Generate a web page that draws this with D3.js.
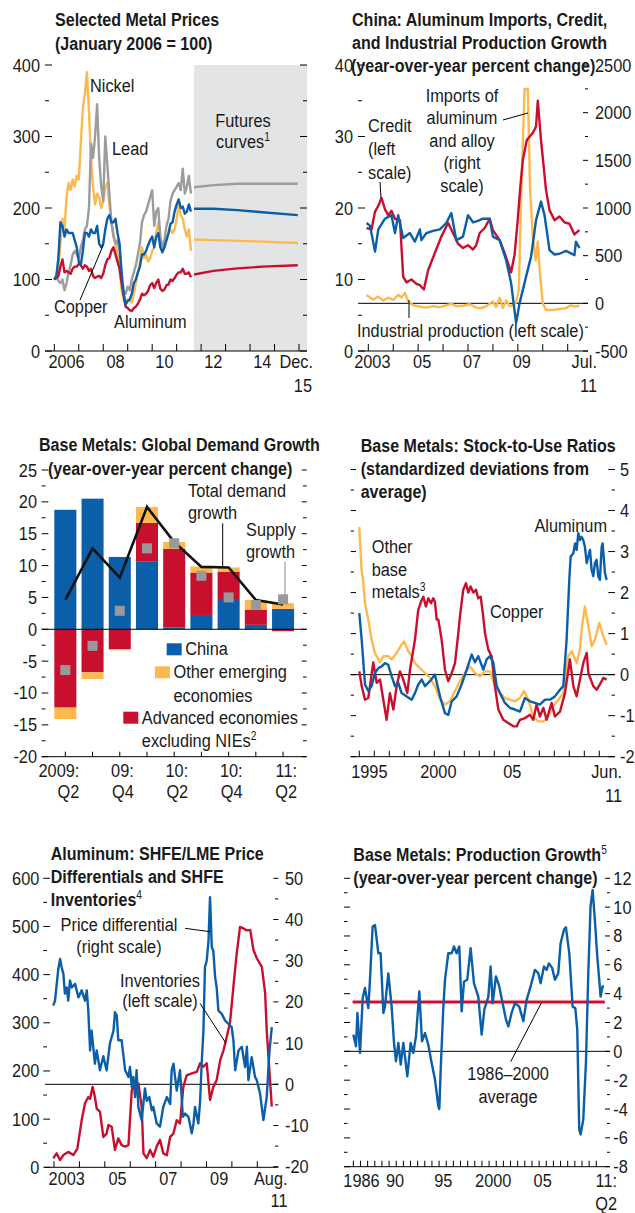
<!DOCTYPE html>
<html>
<head>
<meta charset="utf-8">
<script src="https://cdn.jsdelivr.net/npm/d3@7"></script>
<style>
  body { margin: 0; background: #fff; }
  svg text { font-family: "Liberation Sans", Arial, sans-serif; font-size: 19px; fill: #1a1a1a; }
  svg text.title { font-weight: bold; }
</style>
</head>
<body>
<div id="chart"></div>
<script>
// ---- panel 1: selected metal prices, monthly from Jan 2006 (Jan 2006 = 100)
const priceStart = 2006;
const nickelPrice = [100,105,115,150,185,170,215,235,225,240,230,245,
  240,290,340,360,390,335,270,230,205,220,215,200,
  210,230,235,205,180,165,150,135,115,85,72,65,
  72,70,68,80,95,110,125,145,130,135,125,130,
  140,145,165,180,160,140,145,155,165,170,165,170,
  185,205,190,185,170,160,170,140];
const leadPrice = [100,105,98,95,100,85,95,110,120,135,140,135,
  130,145,155,170,175,200,290,270,300,345,270,230,
  210,300,260,220,180,160,150,155,140,100,85,80,
  90,85,100,110,120,135,150,180,190,195,205,215,
  225,175,195,200,160,145,155,175,185,210,220,225,
  230,235,225,255,220,230,245,220];
const copperPrice = [100,105,130,180,175,160,170,165,165,165,155,145,
  125,120,140,165,165,160,170,165,165,175,150,145,
  150,170,185,190,180,180,185,165,150,110,80,65,
  70,72,80,95,100,110,118,135,135,140,148,155,
  160,145,160,165,145,138,145,155,165,178,180,195,
  205,212,200,202,192,195,205,195];
const aluminumPrice = [100,102,105,118,128,110,112,110,108,115,118,118,
  122,120,115,120,118,112,115,105,102,104,105,102,
  108,120,128,130,140,145,135,125,115,95,78,62,
  60,57,56,60,62,66,72,80,78,80,84,92,
  95,88,95,100,87,84,86,92,93,100,98,102,
  107,110,110,115,108,108,110,103];
const futuresStart = 2011.71;
const copperFutures = [[2011.71,199],[2012.5,199],[2013.5,197],[2014.5,194],[2015.95,190]];
const nickelFutures = [[2011.71,156],[2012.5,155],[2013.5,154],[2014.5,153],[2015.95,151]];
const leadFutures = [[2011.71,229],[2012.5,232],[2013.5,234],[2014.5,234],[2015.95,234]];
const aluminumFutures = [[2011.71,107],[2012.5,112],[2013.5,115.5],[2014.5,118],[2015.95,120]];
const priceTicks = [0,100,200,300,400];
const priceYears = [2006,2007,2008,2009,2010,2011,2012,2013,2014,2015,2016];
const priceYearLabels = [[2006,"2006"],[2008,"08"],[2010,"10"],[2012,"12"],[2014,"14"]];

// ---- panel 2: China imports, credit, industrial production
const creditGrowth = [[2002.93,17.2],[2003.13,17.0],[2003.27,19.5],[2003.4,20.3],[2003.53,21.4],[2003.67,19.8],[2003.8,19.0],[2003.93,19.6],[2004.07,18.5],[2004.27,18.3],[2004.4,10.4],[2004.53,9.6],[2004.73,10.0],[2004.93,9.4],[2005.07,9.2],[2005.23,8.6],[2005.4,11.3],[2005.67,13.7],[2005.93,16.0],[2006.2,17.9],[2006.4,16.5],[2006.6,15.0],[2006.8,14.4],[2007.0,14.8],[2007.2,14.2],[2007.33,14.8],[2007.47,16.5],[2007.67,17.2],[2007.87,18.5],[2008.0,16.9],[2008.27,15.5],[2008.47,13.7],[2008.73,11.0],[2008.87,13.5],[2009.0,18.5],[2009.1,23.0],[2009.2,26.7],[2009.36,29.5],[2009.6,30.5],[2009.73,31.4],[2009.8,35.0],[2009.93,29.5],[2010.13,22.5],[2010.27,19.7],[2010.47,18.3],[2010.67,18.8],[2010.87,18.0],[2011.07,17.8],[2011.27,16.3],[2011.47,16.9]];
const ipGrowth = [[2002.93,17.9],[2003.07,17.5],[2003.27,13.9],[2003.4,17.0],[2003.67,18.5],[2003.93,19.0],[2004.07,16.5],[2004.2,19.0],[2004.4,15.8],[2004.67,16.5],[2004.87,15.3],[2005.07,17.0],[2005.13,15.5],[2005.33,16.5],[2005.6,16.8],[2005.87,17.0],[2006.13,17.9],[2006.33,19.3],[2006.53,15.5],[2006.8,16.0],[2007.0,19.0],[2007.2,18.0],[2007.4,18.2],[2007.6,18.5],[2007.87,18.5],[2008.0,16.0],[2008.27,15.5],[2008.53,12.7],[2008.73,9.5],[2008.93,3.9],[2009.07,6.7],[2009.33,10.4],[2009.53,13.2],[2009.73,18.3],[2009.93,20.9],[2010.07,19.0],[2010.27,14.1],[2010.47,13.5],[2010.67,13.6],[2010.93,14.0],[2011.27,13.4],[2011.33,15.3],[2011.47,14.4]];
const aluminumImports = [[2002.93,87],[2003.07,60],[2003.2,40],[2003.4,70],[2003.6,30],[2003.8,60],[2004.0,35],[2004.2,90],[2004.33,60],[2004.47,110],[2004.6,20],[2004.8,-20],[2005.07,-35],[2005.33,-45],[2005.6,-30],[2005.87,-40],[2006.13,-20],[2006.33,-5],[2006.53,-30],[2006.8,-25],[2007.07,-10],[2007.33,-45],[2007.53,-50],[2007.73,-30],[2008.0,20],[2008.13,-40],[2008.27,60],[2008.4,-50],[2008.53,30],[2008.67,-30],[2008.8,-20],[2008.93,10],[2009.04,150],[2009.13,1100],[2009.27,2250],[2009.4,2250],[2009.49,1200],[2009.6,700],[2009.71,450],[2009.8,650],[2009.89,300],[2010.0,0],[2010.13,-70],[2010.4,-70],[2010.67,-60],[2010.93,-50],[2011.13,-20],[2011.27,-35],[2011.47,-25]];
const chinaYears = [2003,2004,2005,2006,2007,2008,2009,2010,2011];
const chinaYearLabels = [[2003,"2003"],[2005,"05"],[2007,"07"],[2009,"09"]];
const chinaLeftTicks = [0,10,20,30,40];
const chinaRightTicks = [-500,0,500,1000,1500,2000,2500];

// ---- panel 3: global demand growth, quarterly
const quarters = ["2009Q2","2009Q3","2009Q4","2010Q1","2010Q2","2010Q3","2010Q4","2011Q1","2011Q2"];
const chinaDemand = [18.75,20.5,11.35,10.6,0.3,2.25,4.6,0.7,3.2];
const advancedDemand = [-12.3,-6.75,-3.1,6.1,12.3,6.65,4.45,2.4,-0.3];
const otherDemand = [-1.8,-1.05,-0.2,2.5,1.1,0.95,0.65,1.5,0.9];
const totalDemand = [4.6,12.7,8.1,19.2,13.7,9.8,9.7,4.6,3.9];
const supplyGrowth = [-6.4,-2.6,2.9,12.7,13.5,8.4,5.0,3.8,4.7];
const quarterLabels = [[0,"2009:","Q2"],[2,"09:","Q4"],[4,"10:","Q2"],[6,"10:","Q4"],[8,"11:","Q2"]];
const demandTicks = [-20,-15,-10,-5,0,5,10,15,20,25];

// ---- panel 4: stock-to-use ratios
const aluminumStock = [[1995.0,1.5],[1995.16,0.85],[1995.38,-0.24],[1995.6,-0.4],[1995.82,-0.28],[1996.04,0.04],[1996.27,0.16],[1996.49,0.2],[1996.71,0.28],[1996.93,0.24],[1997.16,-0.04],[1997.38,-0.28],[1997.6,-0.2],[1997.82,-0.45],[1998.16,-0.53],[1998.49,-0.61],[1998.71,-0.45],[1998.93,-0.24],[1999.16,-0.12],[1999.38,-0.28],[1999.71,-0.16],[2000.04,0],[2000.38,-0.53],[2000.71,-0.94],[2000.93,-0.98],[2001.16,-0.65],[2001.49,-0.53],[2001.82,-0.24],[2002.16,0.12],[2002.49,0.49],[2002.71,0.3],[2002.93,0.45],[2003.27,0.12],[2003.49,0.37],[2003.71,0.45],[2003.93,0.3],[2004.16,-0.28],[2004.38,-0.45],[2004.71,-0.69],[2005.04,-0.81],[2005.38,-0.85],[2005.71,-0.9],[2006.04,-0.57],[2006.38,-0.65],[2006.71,-0.69],[2007.04,-0.73],[2007.38,-0.61],[2007.71,-0.61],[2008.04,-0.53],[2008.38,-0.37],[2008.6,-0.28],[2008.82,0.85],[2009.0,2.31],[2009.09,2.88],[2009.27,2.96],[2009.38,3.2],[2009.49,3.04],[2009.6,3.45],[2009.71,3.28],[2009.82,3.36],[2009.93,3.28],[2010.04,3.12],[2010.16,2.72],[2010.27,2.88],[2010.38,3.04],[2010.49,2.55],[2010.6,2.4],[2010.71,2.72],[2010.82,2.8],[2010.93,2.4],[2011.04,2.31],[2011.16,3.12],[2011.22,3.2],[2011.38,2.47],[2011.49,2.31]];
const copperStock = [[1995.0,0.08],[1995.16,-0.28],[1995.38,-0.61],[1995.6,-0.57],[1995.93,0.3],[1996.16,-0.2],[1996.38,-0.12],[1996.82,-1.1],[1997.04,-0.45],[1997.27,-0.85],[1997.49,-0.28],[1997.71,0.08],[1997.93,-0.12],[1998.2,-0.45],[1998.38,0.12],[1998.71,0.85],[1998.93,1.58],[1999.16,1.82],[1999.27,1.9],[1999.44,1.66],[1999.6,1.86],[1999.78,1.74],[1999.93,1.86],[2000.04,1.78],[2000.16,1.34],[2000.27,1.34],[2000.49,0.85],[2000.71,0.12],[2000.93,-0.16],[2001.16,0.04],[2001.38,0.28],[2001.6,1.01],[2001.71,1.42],[2001.93,2.07],[2002.11,2.23],[2002.27,2.0],[2002.42,2.15],[2002.6,2.0],[2002.78,2.07],[2002.93,1.86],[2003.09,1.9],[2003.22,1.54],[2003.38,1.01],[2003.6,0.61],[2003.82,0.45],[2004.04,-0.28],[2004.27,-0.85],[2004.6,-1.1],[2004.93,-1.18],[2005.27,-1.26],[2005.49,-1.26],[2005.71,-1.1],[2006.04,-1.06],[2006.38,-0.98],[2006.6,-1.1],[2006.82,-0.73],[2007.04,-1.02],[2007.27,-0.81],[2007.49,-1.1],[2007.82,-0.69],[2008.04,-1.02],[2008.38,-0.9],[2008.71,-0.45],[2009.04,0.37],[2009.27,-0.28],[2009.49,-0.53],[2009.71,-0.12],[2009.93,0.28],[2010.16,0.53],[2010.27,0.04],[2010.6,-0.28],[2010.82,-0.37],[2011.04,-0.24],[2011.27,-0.08],[2011.49,-0.12]];
const otherStock = [[1995.0,3.6],[1995.1,2.9],[1995.15,2.55],[1995.25,2.3],[1995.38,1.74],[1995.6,1.34],[1995.82,0.85],[1996.04,0.53],[1996.38,0.3],[1996.6,0.45],[1996.93,0.45],[1997.16,0.37],[1997.49,0.53],[1997.82,0.73],[1997.98,0.81],[1998.27,0.57],[1998.49,0.45],[1998.71,0.28],[1999.04,0.16],[1999.38,0.04],[1999.71,-0.08],[2000.04,-0.28],[2000.38,-0.61],[2000.71,-0.73],[2001.04,-0.65],[2001.38,-0.4],[2001.71,-0.16],[2002.04,0.04],[2002.38,0.2],[2002.71,0.04],[2003.04,-0.04],[2003.38,0.08],[2003.71,0.08],[2004.04,-0.28],[2004.38,-0.45],[2004.71,-0.57],[2005.04,-0.61],[2005.38,-0.65],[2005.71,-0.57],[2005.98,-0.4],[2006.27,-0.61],[2006.6,-1.02],[2006.93,-1.14],[2007.27,-1.14],[2007.6,-1.02],[2007.93,-0.77],[2008.27,-0.61],[2008.6,-0.45],[2008.93,0.45],[2009.16,0.57],[2009.49,0.28],[2009.71,0.61],[2009.82,1.1],[2010.04,1.66],[2010.27,1.18],[2010.49,0.69],[2010.71,0.85],[2011.0,1.26],[2011.27,0.93],[2011.49,0.73]];
const stockYears = d3.range(1995, 2012);
const stockYearLabels = [[1995.67,"1995"],[2000.27,"2000"],[2005.2,"05"]];
const stockTicks = [-2,-1,0,1,2,3,4,5];

// ---- panel 5: SHFE/LME price differential and SHFE inventories
const priceDifferential = [[2002.97,19.1],[2003.04,20.3],[2003.17,28.0],[2003.24,30.4],[2003.3,28.4],[2003.37,26.8],[2003.43,22.0],[2003.5,23.5],[2003.56,20.3],[2003.63,25.2],[2003.7,23.5],[2003.83,24.4],[2003.96,21.1],[2004.09,22.8],[2004.22,20.3],[2004.29,22.8],[2004.35,17.9],[2004.42,8.2],[2004.48,13.0],[2004.61,5.0],[2004.68,8.2],[2004.81,3.4],[2004.94,6.8],[2005.07,3.4],[2005.2,9.9],[2005.34,13.0],[2005.4,17.5],[2005.47,16.7],[2005.53,10.7],[2005.66,10.7],[2005.8,3.4],[2005.93,1.8],[2005.99,4.2],[2006.06,-0.6],[2006.12,1.8],[2006.19,-3.1],[2006.25,3.4],[2006.32,-5.5],[2006.45,-8.7],[2006.58,-1.0],[2006.65,-4.0],[2006.75,-3.1],[2006.85,-6.3],[2006.91,-5.5],[2007.04,-9.5],[2007.17,-10.3],[2007.3,-5.5],[2007.44,-3.1],[2007.57,-4.8],[2007.63,3.4],[2007.7,5.0],[2007.83,-1.5],[2007.96,3.4],[2008.07,-7.9],[2008.16,-7.1],[2008.29,-7.9],[2008.42,-11.9],[2008.49,-9.5],[2008.55,-5.5],[2008.68,-9.5],[2008.75,-4.0],[2008.81,5.0],[2008.88,13.0],[2008.94,28.4],[2009.01,30.0],[2009.08,34.9],[2009.14,45.4],[2009.21,33.2],[2009.27,32.4],[2009.34,26.0],[2009.4,23.6],[2009.47,17.9],[2009.6,17.1],[2009.73,15.5],[2009.86,14.7],[2009.99,13.9],[2010.06,10.7],[2010.13,3.4],[2010.26,8.2],[2010.39,9.1],[2010.52,4.2],[2010.59,9.1],[2010.65,1.0],[2010.78,6.6],[2010.91,1.8],[2010.98,1.0],[2011.11,-2.3],[2011.24,-8.7],[2011.37,-3.1],[2011.48,8.2],[2011.57,13.9]];
const shfeInventories = [[2002.97,18.7],[2003.1,29],[2003.24,15],[2003.37,25.5],[2003.56,32],[2003.76,25.5],[2003.92,39],[2004.09,98],[2004.22,133],[2004.35,146],[2004.42,142],[2004.52,167],[2004.61,146],[2004.68,122],[2004.81,115],[2004.94,63],[2005.07,70],[2005.14,88],[2005.27,84],[2005.4,36],[2005.53,60],[2005.66,46],[2005.8,43],[2005.93,46],[2006.06,160],[2006.19,178],[2006.32,174],[2006.45,126],[2006.52,29],[2006.65,19],[2006.78,36],[2006.91,22],[2007.04,43],[2007.17,57],[2007.3,29],[2007.44,25],[2007.57,63],[2007.7,70],[2007.83,98],[2007.96,91],[2008.09,167],[2008.22,191],[2008.42,195],[2008.62,198],[2008.75,216],[2008.88,209],[2009.01,216],[2009.14,140],[2009.27,167],[2009.4,181],[2009.54,222],[2009.67,243],[2009.8,271],[2009.93,302],[2010.06,375],[2010.19,444],[2010.32,499],[2010.45,496],[2010.59,492],[2010.72,493],[2010.85,451],[2010.98,434],[2011.18,416],[2011.31,361],[2011.37,285],[2011.44,229],[2011.57,126]];
const shfeYears = d3.range(2003, 2012);
const shfeYearLabels = [[2003,"2003"],[2005,"05"],[2007,"07"],[2009,"09"]];
const shfeLeftTicks = [0,100,200,300,400,500,600];
const shfeRightTicks = [-20,-10,0,10,20,30,40,50];

// ---- panel 6: base metals production growth
const productionGrowth = [[1985.77,1.16],[1986.04,0.35],[1986.18,2.66],[1986.45,-0.11],[1986.72,3.7],[1986.95,4.4],[1987.29,3.0],[1987.46,4.97],[1987.73,8.66],[1987.97,8.76],[1988.31,6.8],[1988.54,6.8],[1988.82,2.66],[1988.98,3.1],[1989.32,5.4],[1989.66,3.1],[1989.9,0.58],[1990.1,-0.69],[1990.34,0.58],[1990.58,-0.92],[1990.85,0.58],[1991.25,-1.73],[1991.59,0.58],[1991.86,-0.11],[1992.13,1.04],[1992.47,4.15],[1992.74,0.69],[1993.05,1.27],[1993.38,0.46],[1993.72,-0.81],[1994.06,-1.96],[1994.4,-3.8],[1994.5,-4.0],[1994.64,-1.27],[1994.91,3.1],[1995.08,4.97],[1995.41,6.8],[1995.75,6.8],[1995.99,7.27],[1996.26,6.8],[1996.53,7.27],[1996.77,2.77],[1997.01,4.84],[1997.34,4.97],[1997.68,7.15],[1998.02,4.72],[1998.46,3.8],[1998.8,1.16],[1999.07,2.89],[1999.48,3.8],[1999.71,5.88],[1999.92,3.34],[2000.25,5.2],[2000.59,4.5],[2000.93,3.34],[2001.27,2.2],[2001.51,1.73],[2001.84,2.66],[2002.18,3.34],[2002.62,3.1],[2003.03,2.09],[2003.37,3.57],[2003.77,4.5],[2004.21,5.65],[2004.55,5.42],[2004.79,4.72],[2005.13,5.88],[2005.4,5.65],[2005.63,6.1],[2005.97,5.77],[2006.24,4.97],[2006.58,5.42],[2006.82,7.5],[2007.16,8.43],[2007.36,8.6],[2007.7,6.8],[2008.04,3.1],[2008.31,3.0],[2008.51,1.5],[2008.71,-5.42],[2008.85,-5.77],[2009.12,-4.73],[2009.39,-0.81],[2009.63,5.42],[2009.86,10.05],[2010.07,11.2],[2010.3,9.1],[2010.54,6.6],[2010.74,4.97],[2010.88,3.8],[2011.08,4.5],[2011.22,4.5]];
const productionAverage = 3.42;
const productionTickYears = d3.range(35).map(i => 1985.77 + i * 0.7256);
const productionYearLabels = [[1986.6,"1986"],[1990,"90"],[1994.9,"95"],[1999.98,"2000"],[2005.0,"05"]];
const productionTicks = [-8,-6,-4,-2,0,2,4,6,8,10,12];

// ---- colours
const BLUE = "#0b5ea8", RED = "#c8102e", GOLD = "#fdb94d", GREY = "#9b9c9e", SHADE = "#e3e4e6";
// the chart uses a condensed face: squeeze Liberation Sans horizontally
const SX = 0.86, SX_BOLD = 0.845;

const svg = d3.select("#chart").append("svg").attr("width", 635).attr("height", 1213);

// ---- helpers
const at = (x, y, s) => `translate(${x},${y}) scale(${s || SX},1)`;
function ticksY(g, y, vals, x0, x1) {
  g.selectAll(null).data(vals).enter().append("line")
    .attr("x1", x0).attr("x2", x1)
    .attr("y1", d => y(d)).attr("y2", d => y(d))
    .attr("stroke", "#000").attr("stroke-width", 1);
}
function ticksX(g, x, vals, y0, len) {
  g.selectAll(null).data(vals).enter().append("line")
    .attr("x1", d => x(d)).attr("x2", d => x(d))
    .attr("y1", y0).attr("y2", y0 - len)
    .attr("stroke", "#000").attr("stroke-width", 1);
}
function labelsY(g, y, vals, x, anchor) {
  g.selectAll(null).data(vals).enter().append("text")
    .attr("transform", d => at(x, y(d) + 6.5))
    .attr("text-anchor", anchor)
    .text(d => d);
}
function hline(g, x0, x1, yy, color, w) {
  g.append("line").attr("x1", x0).attr("x2", x1).attr("y1", yy).attr("y2", yy)
    .attr("stroke", color || "#000").attr("stroke-width", w || 1);
}
function seg(g, x0, y0, x1, y1, color) {
  g.append("line").attr("x1", x0).attr("y1", y0).attr("x2", x1).attr("y2", y1)
    .attr("stroke", color || "#000").attr("stroke-width", 1);
}
function series(g, data, x, y, color, w) {
  g.append("path").datum(data)
    .attr("d", d3.line().x(d => x(d[0])).y(d => y(d[1])))
    .attr("fill", "none").attr("stroke", color)
    .attr("stroke-width", w || 2.4).attr("stroke-linejoin", "round");
}
// parts: string, or {sup: "1"} for a superscript note
function label(g, x, y, parts, anchor, cls) {
  const t = g.append("text").attr("transform", at(x, y, cls === "title" ? SX_BOLD : SX))
    .attr("text-anchor", anchor || "start");
  if (cls) t.attr("class", cls);
  [].concat(parts).forEach(p => {
    if (typeof p === "string") t.append("tspan").text(p);
    else t.append("tspan").attr("dy", -7).style("font-size", "12px").style("font-weight", "normal").text(p.sup);
  });
  return t;
}
function lines(g, x, y, step, rows, anchor, cls) {
  rows.forEach((r, i) => label(g, x, y + i * step, r, anchor, cls));
}
const monthly = (arr, start) => arr.map((v, i) => [start + i / 12, v]);

// ================= panel 1 =================
(function () {
  const g = svg.append("g");
  const x = d3.scaleLinear().domain([2006, 2016]).range([54.3, 299]);
  const y = d3.scaleLinear().domain([0, 400]).range([351, 65]);
  g.append("rect").attr("x", x(futuresStart)).attr("y", y(400))
    .attr("width", 307 - x(futuresStart)).attr("height", y(0) - y(400)).attr("fill", SHADE);

  ticksY(g, y, priceTicks, 45, 52);
  ticksY(g, y, [50,150,250,350], 45, 49);
  ticksY(g, y, priceTicks, 307, 300);
  ticksY(g, y, [50,150,250,350], 307, 303);
  labelsY(g, y, priceTicks, 40, "end");
  hline(g, 45, 307, y(0));
  ticksX(g, x, priceYears, y(0), 7);
  priceYearLabels.forEach(d => label(g, x(d[0] + 0.5), 368, d[1], "middle"));
  label(g, 313, 368, "Dec.", "end");
  label(g, 312, 392, "15", "end");

  series(g, monthly(nickelPrice, priceStart), x, y, GOLD);
  series(g, monthly(leadPrice, priceStart), x, y, GREY);
  series(g, monthly(aluminumPrice, priceStart), x, y, RED);
  series(g, monthly(copperPrice, priceStart), x, y, BLUE);
  series(g, nickelFutures, x, y, GOLD);
  series(g, leadFutures, x, y, GREY);
  series(g, aluminumFutures, x, y, RED);
  series(g, copperFutures, x, y, BLUE);

  lines(g, 55, 26, 23.5, ["Selected Metal Prices", "(January 2006 = 100)"], "start", "title");
  label(g, 90, 92, "Nickel");
  label(g, 112, 155, "Lead");
  label(g, 54, 313, "Copper");
  seg(g, 80, 300, 103.3, 245);
  label(g, 114, 328, "Aluminum");
  label(g, 243, 127, "Futures", "middle");
  label(g, 243, 148, ["curves", {sup: "1"}], "middle");
})();

// ================= panel 2 =================
(function () {
  const g = svg.append("g");
  const x = d3.scaleLinear().domain([2003, 2011]).range([368.3, 567.7]);
  const yL = d3.scaleLinear().domain([0, 40]).range([351, 65]);
  const yR = d3.scaleLinear().domain([-500, 2500]).range([351, 65]);

  ticksY(g, yL, chinaLeftTicks, 358, 365);
  ticksY(g, yL, [5,15,25,35], 358, 362);
  ticksY(g, yR, chinaRightTicks, 588, 583);
  ticksY(g, yR, [-250,250,750,1250,1750,2250], 588, 585);
  labelsY(g, yL, chinaLeftTicks, 353, "end");
  labelsY(g, yR, chinaRightTicks, 595, "start");
  hline(g, 358, 588, yL(0));
  hline(g, 358, 588, yR(0));
  ticksX(g, x, chinaYears, yL(0), 7);
  chinaYearLabels.forEach(d => label(g, x(d[0]) + 4, 368, d[1], "middle"));
  label(g, 597, 368, "Jul.", "end");
  label(g, 597, 392, "11", "end");

  series(g, aluminumImports, x, yR, GOLD);
  series(g, creditGrowth, x, yL, RED);
  series(g, ipGrowth, x, yL, BLUE);

  lines(g, 352, 26, 23, ["China: Aluminum Imports, Credit,", "and Industrial Production Growth"], "start", "title");
  label(g, 351, 72, "(year-over-year percent change)", "start", "title");
  lines(g, 368, 131.7, 23.5, ["Credit", "(left", "scale)"], "start");
  seg(g, 380, 182, 381, 198);
  lines(g, 462, 101.7, 22.5, ["Imports of", "aluminum", "and alloy", "(right", "scale)"], "middle");
  seg(g, 503, 120, 528, 113);
  label(g, 357, 337, "Industrial production (left scale)");
  seg(g, 409, 300, 409, 318);
})();

// ================= panel 3 =================
(function () {
  const g = svg.append("g");
  const x = d3.scaleBand().domain(quarters).range([51.6, 296.8]).paddingInner(0.19).paddingOuter(0.1);
  const y = d3.scaleLinear().domain([-20, 25]).range([756.7, 470]);

  ticksY(g, y, demandTicks, 41.7, 48.3);
  ticksY(g, y, demandTicks.map(d => d + 2.5).slice(0, 9), 41.7, 45.5);
  ticksY(g, y, demandTicks, 306.7, 301.7);
  ticksY(g, y, demandTicks.map(d => d + 2.5).slice(0, 9), 306.7, 303);
  labelsY(g, y, demandTicks, 37, "end");

  const rows = quarters.map((q, i) => ({q: q, china: chinaDemand[i], advanced: advancedDemand[i], other: otherDemand[i]}));
  const stack = d3.stack().keys(["china", "advanced", "other"]).offset(d3.stackOffsetDiverging)(rows);
  const fill = {china: BLUE, advanced: RED, other: GOLD};
  stack.forEach(layer => {
    g.selectAll(null).data(layer).enter().append("rect")
      .attr("x", d => x(d.data.q)).attr("width", x.bandwidth())
      .attr("y", d => y(Math.max(d[0], d[1])))
      .attr("height", d => Math.abs(y(d[0]) - y(d[1])))
      .attr("fill", fill[layer.key]);
  });
  hline(g, 41.7, 306.7, y(0));
  hline(g, 41.7, 306.7, y(-20));
  const cx = q => x(q) + x.bandwidth() / 2;
  ticksX(g, q => cx(q), quarters, y(-20), 5);

  g.append("path").datum(totalDemand)
    .attr("d", d3.line().x((d, i) => cx(quarters[i])).y(d => y(d)))
    .attr("fill", "none").attr("stroke", "#111").attr("stroke-width", 2.6);
  g.selectAll(null).data(supplyGrowth).enter().append("rect")
    .attr("x", (d, i) => cx(quarters[i]) - 5).attr("y", d => y(d) - 5)
    .attr("width", 10).attr("height", 10).attr("fill", "#999");

  quarterLabels.forEach(d => {
    label(g, cx(quarters[d[0]]) + 14, 776.7, d[1], "end");
    label(g, cx(quarters[d[0]]) + 14, 798.3, d[2], "end");
  });

  label(g, 39, 450.7, "Base Metals: Global Demand Growth", "start", "title");
  label(g, 48, 475, "(year-over-year percent change)", "start", "title");
  lines(g, 188, 496.7, 22, ["Total demand", "growth"], "start");
  seg(g, 222.7, 523.3, 222.7, 566.7);
  lines(g, 246, 536, 22.3, ["Supply", "growth"], "start");
  seg(g, 285, 561.7, 285, 595, "#888");

  const legend = [[166.7, 643.3, BLUE, ["China"]], [155, 666.3, GOLD, ["Other emerging", "economies"]], [123.3, 711.7, RED, ["Advanced economies", ["excluding NIEs", {sup: "2"}]]]];
  legend.forEach(d => {
    g.append("rect").attr("x", d[0]).attr("y", d[1]).attr("width", 15).attr("height", 12).attr("fill", d[2]);
    lines(g, d[0] + 18.5, d[1] + 12, 23.4, d[3], "start");
  });
})();

// ================= panel 4 =================
(function () {
  const g = svg.append("g");
  const x = d3.scaleLinear().domain([1995, 2011]).range([359.3, 599.3]);
  const y = d3.scaleLinear().domain([-2, 5]).range([756.7, 469.5]);
  const halves = stockTicks.slice(0, 7).map(d => d + 0.5);

  ticksY(g, y, stockTicks, 350.7, 356);
  ticksY(g, y, halves, 350.7, 354);
  ticksY(g, y, stockTicks, 615, 608.3);
  ticksY(g, y, halves, 615, 611.5);
  labelsY(g, y, stockTicks, 620, "start");
  hline(g, 350.7, 615, y(0));
  hline(g, 350.7, 615, y(-2));
  ticksX(g, x, stockYears, y(-2), 6);
  stockYearLabels.forEach(d => label(g, x(d[0]), 778.3, d[1], "middle"));
  label(g, 622, 778.3, "Jun.", "end");
  label(g, 622, 801.7, "11", "end");

  series(g, otherStock, x, y, GOLD);
  series(g, copperStock, x, y, RED);
  series(g, aluminumStock, x, y, BLUE);

  lines(g, 360.7, 451.7, 23.3, ["Base Metals: Stock-to-Use Ratios", "(standardized deviations from", "average)"], "start", "title");
  lines(g, 371.7, 553.3, 22.5, ["Other", "base", ["metals", {sup: "3"}]], "start");
  label(g, 490, 617.7, "Copper");
  label(g, 607, 531.7, "Aluminum", "end");
})();

// ================= panel 5 =================
(function () {
  const g = svg.append("g");
  const x = d3.scaleLinear().domain([2003, 2011]).range([54, 257.3]);
  const yL = d3.scaleLinear().domain([0, 600]).range([1167.3, 878.3]);
  const yR = d3.scaleLinear().domain([-20, 50]).range([1166.7, 878.3]);

  ticksY(g, yL, shfeLeftTicks, 43.3, 50);
  ticksY(g, yL, [50,150,250,350,450,550], 43.3, 47);
  ticksY(g, yR, shfeRightTicks, 278.3, 273.3);
  ticksY(g, yR, [-15,-5,5,15,25,35,45], 278.3, 275);
  labelsY(g, yL, shfeLeftTicks, 39.3, "end");
  labelsY(g, yR, shfeRightTicks, 285, "start");
  hline(g, 45, 278.3, yL(0));
  hline(g, 45, 278.3, yR(0));
  ticksX(g, x, shfeYears, yL(0), 6);
  shfeYearLabels.forEach(d => label(g, x(d[0] + 0.5), 1185, d[1], "middle"));
  label(g, 287.5, 1185, "Aug.", "end");
  label(g, 287.5, 1206.7, "11", "end");

  series(g, shfeInventories, x, yL, RED);
  series(g, priceDifferential, x, yR, BLUE);

  lines(g, 50.7, 860, 23, ["Aluminum: SHFE/LME Price", "Differentials and SHFE", ["Inventories", {sup: "4"}]], "start", "title");
  lines(g, 119, 930.7, 22.6, ["Price differential", "(right scale)"], "middle");
  seg(g, 185, 928.3, 210, 931.7);
  lines(g, 160, 986.7, 20, ["Inventories", "(left scale)"], "middle");
  seg(g, 200, 1003.3, 226, 1043.3);
})();

// ================= panel 6 =================
(function () {
  const g = svg.append("g");
  const x = d3.scaleLinear().domain([1990, 2005]).range([395, 542.7]);
  const y = d3.scaleLinear().domain([-8, 12]).range([1166.7, 878.3]);
  const odd = productionTicks.slice(0, 10).map(d => d + 1);

  ticksY(g, y, productionTicks, 344, 350);
  ticksY(g, y, odd, 344, 347.5);
  ticksY(g, y, productionTicks, 610, 605);
  ticksY(g, y, odd, 610, 607);
  labelsY(g, y, productionTicks, 613.3, "start");
  hline(g, 344, 610, y(0));
  hline(g, 344, 610, y(-8));
  ticksX(g, x, productionTickYears, y(-8), 6);
  productionYearLabels.forEach(d => label(g, x(d[0]), 1186.7, d[1], "middle"));
  label(g, 617, 1186.7, "11:", "end");
  label(g, 617, 1210, "Q2", "end");

  hline(g, x(1985.7), x(2011.3), y(productionAverage), "#f0b8c0", 4.5);
  hline(g, x(1985.7), x(2011.3), y(productionAverage), RED, 2.6);
  series(g, productionGrowth, x, y, BLUE);

  lines(g, 353.3, 860.7, 23.3, [["Base Metals: Production Growth", {sup: "5"}], "(year-over-year percent change)"], "start", "title");
  lines(g, 508, 1080, 22.7, ["1986\u20132000", "average"], "middle");
  seg(g, 510.7, 1061.7, 541.7, 1002.3);
})();
</script>
</body>
</html>
